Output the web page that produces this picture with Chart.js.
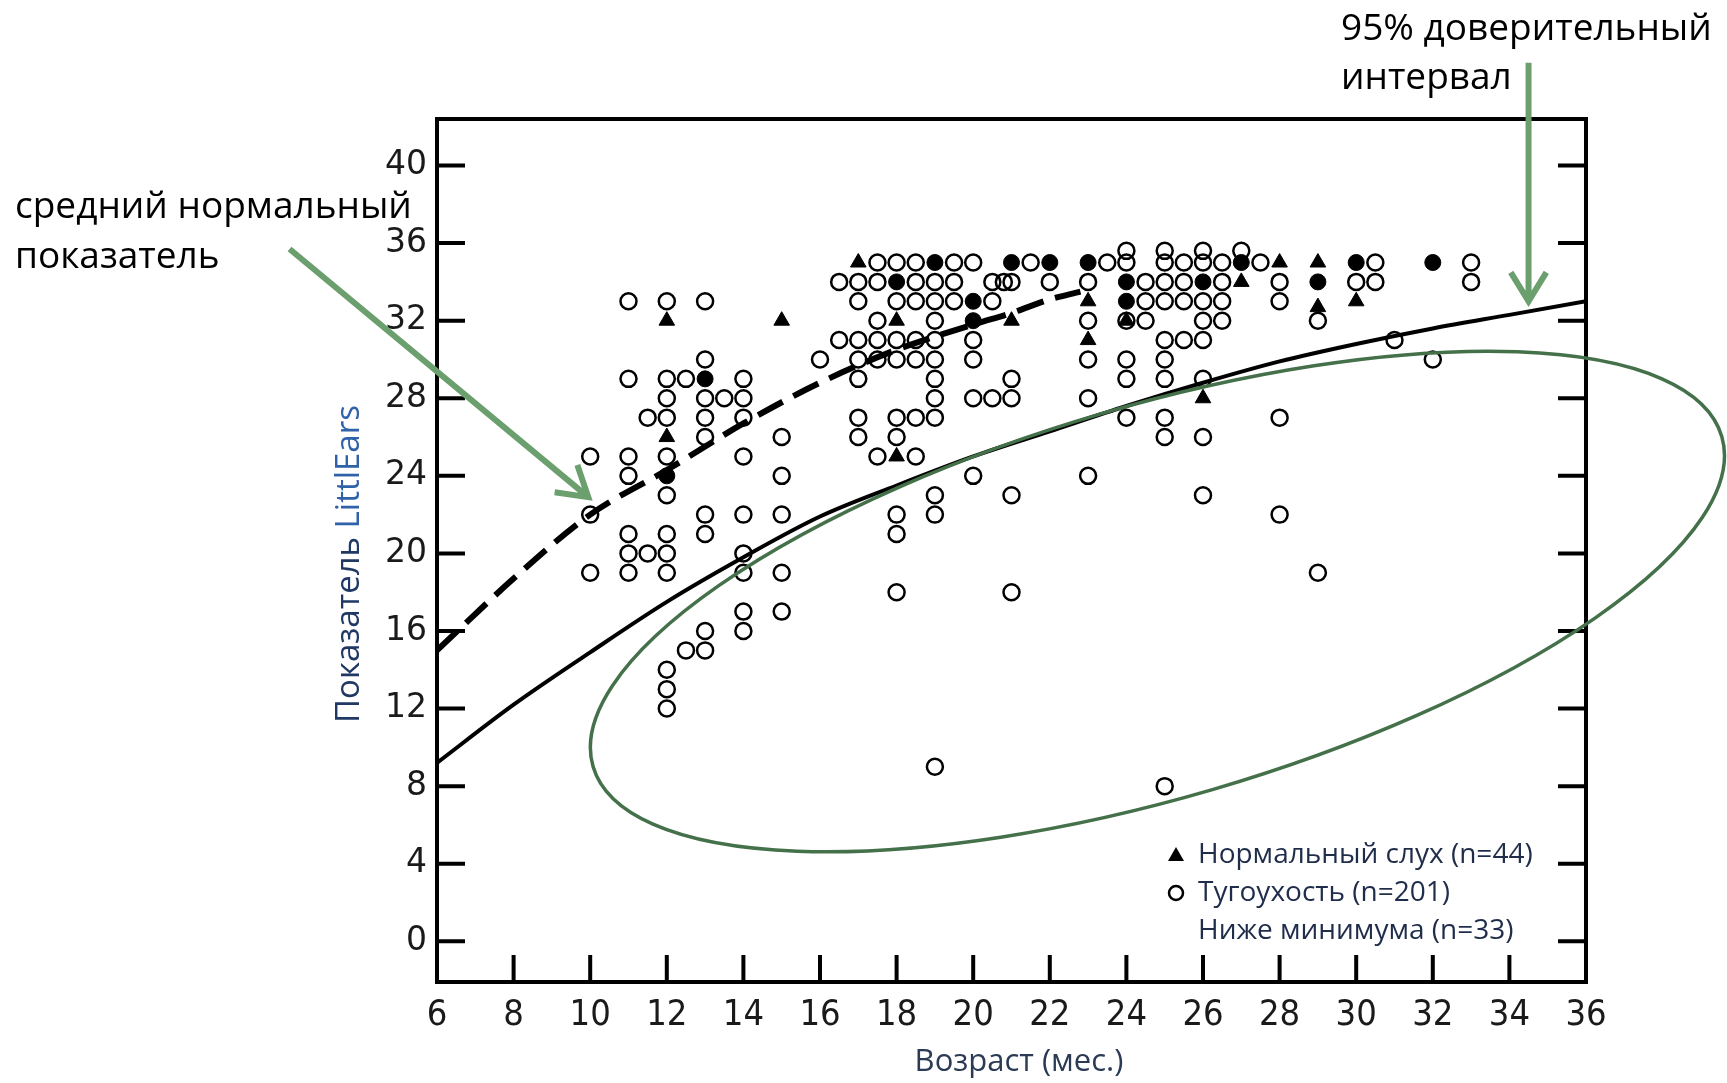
<!DOCTYPE html>
<html lang="ru">
<head>
<meta charset="UTF-8">
<title>LittlEars по возрасту</title>
<script src="https://cdn.jsdelivr.net/npm/chart.js@4"></script>
<style>
  html, body { margin: 0; padding: 0; background: #fff; }
  #wrap { width: 1727px; height: 1083px; position: relative; }
</style>
</head>
<body>
<div id="wrap"><canvas id="chart"></canvas></div>
<script>
// axis ticks
const ageTicks = [6, 8, 10, 12, 14, 16, 18, 20, 22, 24, 26, 28, 30, 32, 34, 36];
const scoreTicks = [0, 4, 8, 12, 16, 20, 24, 28, 32, 36, 40];

// mean normal curve (dashed)
const meanAge = [6, 8, 10, 12, 14, 16, 18, 20, 21, 22, 22.8];
const meanScore = [15, 18.7, 22, 24.3, 26.7, 28.8, 30.5, 31.8, 32.4, 33.1, 33.5];

// lower 95% bound (solid)
const lowAge = [6, 8, 10, 12, 14, 16, 18, 20, 22, 24, 26, 28, 30, 32, 34, 36];
const lowScore = [9.2, 12.2, 14.9, 17.5, 19.8, 21.9, 23.5, 25.0, 26.3, 27.6, 28.8, 29.9, 30.8, 31.6, 32.3, 33.0];

// [age, score]
const lossPoints = [
  [10,25],[10,22],[10,19],
  [11,33],[11,29],[11,25],[11,24],[11,21],[11,20],[11,19],
  [11.5,27],[11.5,20],
  [12,33],[12,29],[12,28],[12,27],[12,25],[12,23],[12,21],[12,20],[12,19],[12,14],[12,13],[12,12],
  [12.5,29],[12.5,15],
  [13,33],[13,30],[13,28],[13,27],[13,26],[13,22],[13,21],[13,16],[13,15],
  [13.5,28],
  [14,29],[14,28],[14,27],[14,25],[14,22],[14,20],[14,19],[14,17],[14,16],
  [15,26],[15,24],[15,22],[15,19],[15,17],
  [16,30],
  [16.5,34],[16.5,31],
  [17,34],[17,33],[17,31],[17,30],[17,29],[17,27],[17,26],
  [17.5,35],[17.5,34],[17.5,32],[17.5,31],[17.5,30],[17.5,25],
  [18,35],[18,33],[18,31],[18,30],[18,27],[18,26],[18,22],[18,21],[18,18],
  [18.5,35],[18.5,34],[18.5,33],[18.5,31],[18.5,30],[18.5,27],[18.5,25],
  [19,34],[19,33],[19,32],[19,31],[19,30],[19,29],[19,28],[19,27],[19,23],[19,22],[19,9],
  [19.5,35],[19.5,34],[19.5,33],
  [20,35],[20,31],[20,30],[20,28],[20,24],
  [20.5,34],[20.5,33],[20.5,28],
  [20.8,34],
  [21,34],[21,29],[21,28],[21,23],[21,18],
  [21.5,35],
  [22,34],
  [23,34],[23,32],[23,30],[23,28],[23,24],
  [23.5,35],
  [24,35.6],[24,35],[24,32],[24,30],[24,29],[24,27],
  [24.5,34],[24.5,33],[24.5,32],
  [25,35.6],[25,35],[25,34],[25,33],[25,31],[25,30],[25,29],[25,27],[25,26],[25,8],
  [25.5,35],[25.5,34],[25.5,33],[25.5,31],
  [26,35.6],[26,35],[26,33],[26,32],[26,31],[26,29],[26,26],[26,23],
  [26.5,35],[26.5,34],[26.5,33],[26.5,32],
  [27,35.6],
  [27.5,35],
  [28,34],[28,33],[28,27],[28,22],
  [29,32],[29,19],
  [30,34],
  [30.5,35],[30.5,34],
  [31,31],
  [32,30],
  [33,35],[33,34]
];
const normalPoints = [
  [12,32],[12,26],[15,32],[17,35],[18,32],[18,25],[21,32],[23,33],[23,31],
  [24,32],[26,28],[27,34],[28,35],[29,35],[29,32.7],[30,33]
];
// spots where markers overlap into a solid blob
const overlapPoints = [
  [12,24],[13,29],[18,34],[19,35],[20,33],[20,32],[21,35],[22,35],[23,35],
  [24,34],[24,33],[26,34],[27,35],[29,34],[30,35],[32,35]
];

const legendLabels = ['Нормальный слух (n=44)', 'Тугоухость (n=201)', 'Ниже минимума (n=33)'];
const xTitle = 'Возраст (мес.)';
const yTitleParts = ['Показатель ', 'LittlEars'];
const noteLeft = ['средний нормальный', 'показатель'];
const noteRight = ['95% доверительный', 'интервал'];

const toXY = arr => arr.map(p => ({ x: p[0], y: p[1] }));
const curve = (xs, ys) => xs.map((v, i) => ({ x: v, y: ys[i] }));

function arrow(ctx, x1, y1, x2, y2) {
  const ang = Math.atan2(y2 - y1, x2 - x1);
  const L = 34, spread = 0.55;
  ctx.beginPath();
  ctx.moveTo(x1, y1);
  ctx.lineTo(x2, y2);
  ctx.moveTo(x2 - L * Math.cos(ang - spread), y2 - L * Math.sin(ang - spread));
  ctx.lineTo(x2, y2);
  ctx.lineTo(x2 - L * Math.cos(ang + spread), y2 - L * Math.sin(ang + spread));
  ctx.stroke();
}

const decor = {
  id: 'decor',
  afterDraw(chart) {
    const { ctx, chartArea: a, scales: { x, y } } = chart;
    ctx.save();

    // frame and inward ticks
    ctx.strokeStyle = '#000';
    ctx.lineWidth = 4;
    ctx.strokeRect(a.left, a.top, a.right - a.left, a.bottom - a.top);
    ctx.beginPath();
    scoreTicks.forEach(v => {
      const py = y.getPixelForValue(v);
      ctx.moveTo(a.left, py); ctx.lineTo(a.left + 28, py);
      ctx.moveTo(a.right, py); ctx.lineTo(a.right - 28, py);
    });
    ageTicks.forEach(v => {
      const px = x.getPixelForValue(v);
      ctx.moveTo(px, a.bottom); ctx.lineTo(px, a.bottom - 27);
    });
    ctx.stroke();

    // legend inside plot
    const lx = 1176, ly = [855, 893, 931];
    ctx.fillStyle = '#000';
    ctx.beginPath();
    ctx.moveTo(lx, ly[0] - 8); ctx.lineTo(lx + 8, ly[0] + 6); ctx.lineTo(lx - 8, ly[0] + 6);
    ctx.closePath(); ctx.fill();
    ctx.lineWidth = 2.5;
    ctx.beginPath(); ctx.arc(lx, ly[1], 7, 0, Math.PI * 2); ctx.stroke();
    ctx.font = '28px "Open Sans"';
    ctx.fillStyle = '#1f2d4a';
    ctx.textAlign = 'left';
    ctx.textBaseline = 'middle';
    legendLabels.forEach((t, i) => ctx.fillText(t, 1198, ly[i]));

    // axis titles
    ctx.font = '31px "Open Sans"';
    ctx.textAlign = 'center';
    ctx.fillStyle = '#2b3a55';
    ctx.fillText(xTitle, 1019, 1062);
    ctx.save();
    ctx.font = '33px "Open Sans"';
    ctx.translate(350, 564);
    ctx.rotate(-Math.PI / 2);
    const w1 = ctx.measureText(yTitleParts[0]).width;
    const w2 = ctx.measureText(yTitleParts[1]).width;
    ctx.textAlign = 'left';
    ctx.fillStyle = '#1f3864';
    ctx.fillText(yTitleParts[0], -(w1 + w2) / 2, 0);
    ctx.fillStyle = '#2f62a8';
    ctx.fillText(yTitleParts[1], -(w1 + w2) / 2 + w1, 0);
    ctx.restore();

    // highlighted region
    ctx.strokeStyle = '#44704a';
    ctx.lineWidth = 3.5;
    ctx.beginPath();
    ctx.ellipse(x.getPixelForValue(24.81), y.getPixelForValue(17.52), 588, 196, -16.3 * Math.PI / 180, 0, Math.PI * 2);
    ctx.stroke();

    // annotation arrows
    ctx.strokeStyle = '#6c9f6e';
    ctx.lineWidth = 6;
    ctx.lineJoin = 'miter';
    ctx.lineCap = 'butt';
    arrow(ctx, x.getPixelForValue(2.15), y.getPixelForValue(35.7), x.getPixelForValue(9.95), y.getPixelForValue(22.9));
    arrow(ctx, x.getPixelForValue(34.5), y.getPixelForValue(45.3), x.getPixelForValue(34.5), y.getPixelForValue(33.0));

    // annotation texts
    ctx.font = '37px "Open Sans"';
    ctx.fillStyle = '#000';
    ctx.textAlign = 'left';
    ctx.textBaseline = 'alphabetic';
    ctx.fillText(noteLeft[0], 15, 218);
    ctx.fillText(noteLeft[1], 15, 268);
    ctx.fillText(noteRight[0], 1341, 40);
    ctx.fillText(noteRight[1], 1341, 89);

    ctx.restore();
  }
};

new Chart(document.getElementById('chart'), {
  type: 'scatter',
  data: {
    datasets: [
      {
        label: 'mean', type: 'line', data: curve(meanAge, meanScore),
        borderColor: '#000', borderWidth: 6, borderDash: [28, 12],
        pointRadius: 0, cubicInterpolationMode: 'monotone', fill: false
      },
      {
        label: 'low95', type: 'line', data: curve(lowAge, lowScore),
        borderColor: '#000', borderWidth: 4,
        pointRadius: 0, cubicInterpolationMode: 'monotone', fill: false
      },
      {
        label: legendLabels[0], data: toXY(normalPoints), pointStyle: 'triangle',
        pointRadius: 9, backgroundColor: '#000', borderColor: '#000', borderWidth: 1
      },
      {
        label: 'overlap', data: toXY(overlapPoints), pointStyle: 'circle',
        pointRadius: 8, backgroundColor: '#000', borderColor: '#000', borderWidth: 1
      },
      {
        label: legendLabels[1], data: toXY(lossPoints), pointStyle: 'circle',
        pointRadius: 8, backgroundColor: 'rgba(0,0,0,0)', borderColor: '#000', borderWidth: 2.5
      }
    ]
  },
  options: {
    responsive: true,
    maintainAspectRatio: false,
    animation: false,
    layout: { padding: { left: 337, right: 141, top: 119, bottom: 0 } },
    plugins: { legend: { display: false }, tooltip: { enabled: false } },
    scales: {
      x: {
        type: 'linear', min: 6, max: 36,
        afterBuildTicks: s => { s.ticks = ageTicks.map(v => ({ value: v })); },
        afterFit: s => { s.height = 101; },
        grid: { display: false, drawTicks: false },
        border: { display: false },
        ticks: { padding: 12, color: '#1a1a1a', maxRotation: 0,
                 font: { family: '"Liberation Sans Narrow", "DejaVu Sans Condensed", "DejaVu Sans"', size: 36 } }
      },
      y: {
        type: 'linear', min: -2.1, max: 42.4,
        afterBuildTicks: s => { s.ticks = scoreTicks.map(v => ({ value: v })); },
        afterFit: s => { s.width = 100; },
        grid: { display: false, drawTicks: false },
        border: { display: false },
        ticks: { padding: 10, color: '#1a1a1a', font: { family: 'DejaVu Sans', size: 33 } }
      }
    }
  },
  plugins: [decor]
});
</script>
</body>
</html>
